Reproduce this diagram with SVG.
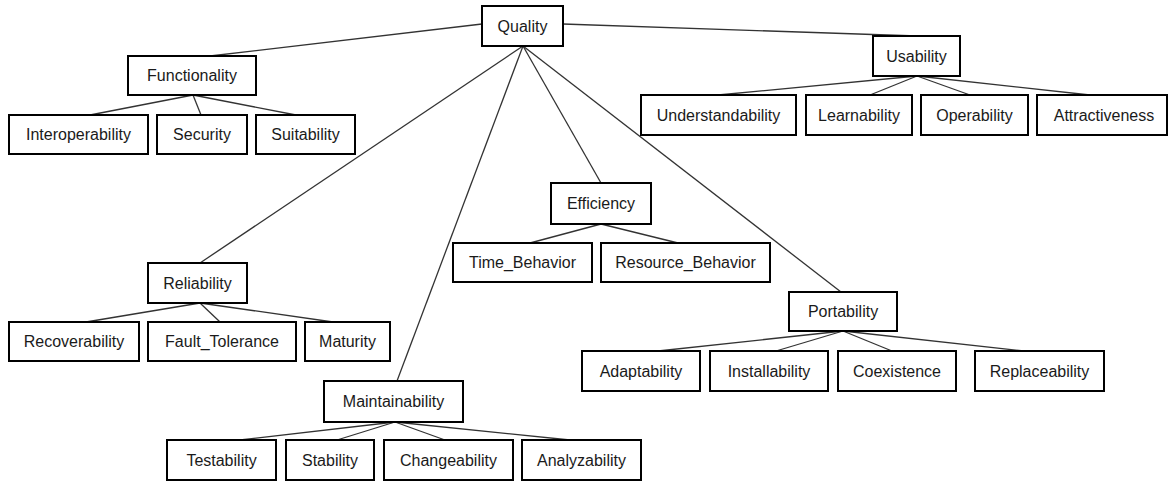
<svg xmlns="http://www.w3.org/2000/svg" width="1168" height="481" viewBox="0 0 1168 481">
<style>
.n rect{fill:#fff;stroke:#000;stroke-width:2}
.n text{font-family:"Liberation Sans",Arial,sans-serif;font-size:16px;fill:#1a1a1a;text-anchor:middle;dominant-baseline:central}
#edges line{stroke:#333;stroke-width:1.3}
</style>
<rect width="1168" height="481" fill="#fff"/>
<g id="edges">
<line x1="482" y1="24" x2="210" y2="56"/>
<line x1="563" y1="24" x2="917" y2="36"/>
<line x1="523" y1="46" x2="200" y2="263"/>
<line x1="523" y1="46" x2="397" y2="381"/>
<line x1="523" y1="46" x2="601" y2="183"/>
<line x1="523" y1="46" x2="841" y2="292"/>
<line x1="193" y1="95" x2="90" y2="115"/>
<line x1="193" y1="95" x2="201" y2="115"/>
<line x1="193" y1="95" x2="296" y2="115"/>
<line x1="917" y1="76" x2="718" y2="95"/>
<line x1="917" y1="76" x2="870" y2="95"/>
<line x1="917" y1="76" x2="970" y2="95"/>
<line x1="917" y1="76" x2="1090" y2="95"/>
<line x1="200" y1="303" x2="86" y2="322"/>
<line x1="200" y1="303" x2="220" y2="322"/>
<line x1="200" y1="303" x2="333" y2="322"/>
<line x1="601" y1="224" x2="530" y2="243"/>
<line x1="601" y1="224" x2="678" y2="243"/>
<line x1="843" y1="331" x2="658" y2="351"/>
<line x1="843" y1="331" x2="776" y2="351"/>
<line x1="843" y1="331" x2="892" y2="351"/>
<line x1="843" y1="331" x2="1024" y2="351"/>
<line x1="395" y1="422" x2="240" y2="440"/>
<line x1="395" y1="422" x2="337" y2="440"/>
<line x1="395" y1="422" x2="445" y2="440"/>
<line x1="395" y1="422" x2="570" y2="440"/>
</g>
<g id="quality" class="n"><rect x="482" y="6" width="81" height="40"/><text x="522.5" y="26">Quality</text></g>
<g id="functionality" class="n"><rect x="128" y="56" width="128" height="39"/><text x="192" y="75.5">Functionality</text></g>
<g id="interoperability" class="n"><rect x="9" y="115" width="139" height="39"/><text x="78.5" y="134.5">Interoperability</text></g>
<g id="security" class="n"><rect x="157" y="115" width="90" height="39"/><text x="202" y="134.5">Security</text></g>
<g id="suitability" class="n"><rect x="256" y="115" width="99" height="39"/><text x="305.5" y="134.5">Suitability</text></g>
<g id="usability" class="n"><rect x="873" y="36" width="87" height="40"/><text x="916.5" y="56">Usability</text></g>
<g id="understandability" class="n"><rect x="641" y="95" width="155" height="40"/><text x="718.5" y="115">Understandability</text></g>
<g id="learnability" class="n"><rect x="806" y="95" width="106" height="40"/><text x="859" y="115">Learnability</text></g>
<g id="operability" class="n"><rect x="921" y="95" width="107" height="40"/><text x="974.5" y="115">Operability</text></g>
<g id="attractiveness" class="n"><rect x="1037" y="95" width="130" height="40"/><text x="1104" y="115">Attractiveness</text></g>
<g id="reliability" class="n"><rect x="148" y="263" width="99" height="40"/><text x="197.5" y="283">Reliability</text></g>
<g id="recoverability" class="n"><rect x="9" y="322" width="130" height="39"/><text x="74" y="341.5">Recoverability</text></g>
<g id="fault_tolerance" class="n"><rect x="148" y="322" width="148" height="39"/><text x="222" y="341.5">Fault_Tolerance</text></g>
<g id="maturity" class="n"><rect x="305" y="322" width="85" height="39"/><text x="347.5" y="341.5">Maturity</text></g>
<g id="efficiency" class="n"><rect x="551" y="183" width="100" height="41"/><text x="601" y="203.5">Efficiency</text></g>
<g id="time_behavior" class="n"><rect x="453" y="243" width="139" height="39"/><text x="522.5" y="262.5">Time_Behavior</text></g>
<g id="resource_behavior" class="n"><rect x="601" y="243" width="169" height="39"/><text x="685.5" y="262.5">Resource_Behavior</text></g>
<g id="portability" class="n"><rect x="789" y="292" width="108" height="39"/><text x="843" y="311.5">Portability</text></g>
<g id="adaptability" class="n"><rect x="582" y="351" width="118" height="40"/><text x="641" y="371">Adaptability</text></g>
<g id="installability" class="n"><rect x="710" y="351" width="118" height="40"/><text x="769" y="371">Installability</text></g>
<g id="coexistence" class="n"><rect x="838" y="351" width="118" height="40"/><text x="897" y="371">Coexistence</text></g>
<g id="replaceability" class="n"><rect x="975" y="351" width="129" height="40"/><text x="1039.5" y="371">Replaceability</text></g>
<g id="maintainability" class="n"><rect x="324" y="381" width="139" height="41"/><text x="393.5" y="401.5">Maintainability</text></g>
<g id="testability" class="n"><rect x="167" y="440" width="109" height="40"/><text x="221.5" y="460">Testability</text></g>
<g id="stability" class="n"><rect x="286" y="440" width="88" height="40"/><text x="330" y="460">Stability</text></g>
<g id="changeability" class="n"><rect x="384" y="440" width="129" height="40"/><text x="448.5" y="460">Changeability</text></g>
<g id="analyzability" class="n"><rect x="522" y="440" width="119" height="40"/><text x="581.5" y="460">Analyzability</text></g>
</svg>
